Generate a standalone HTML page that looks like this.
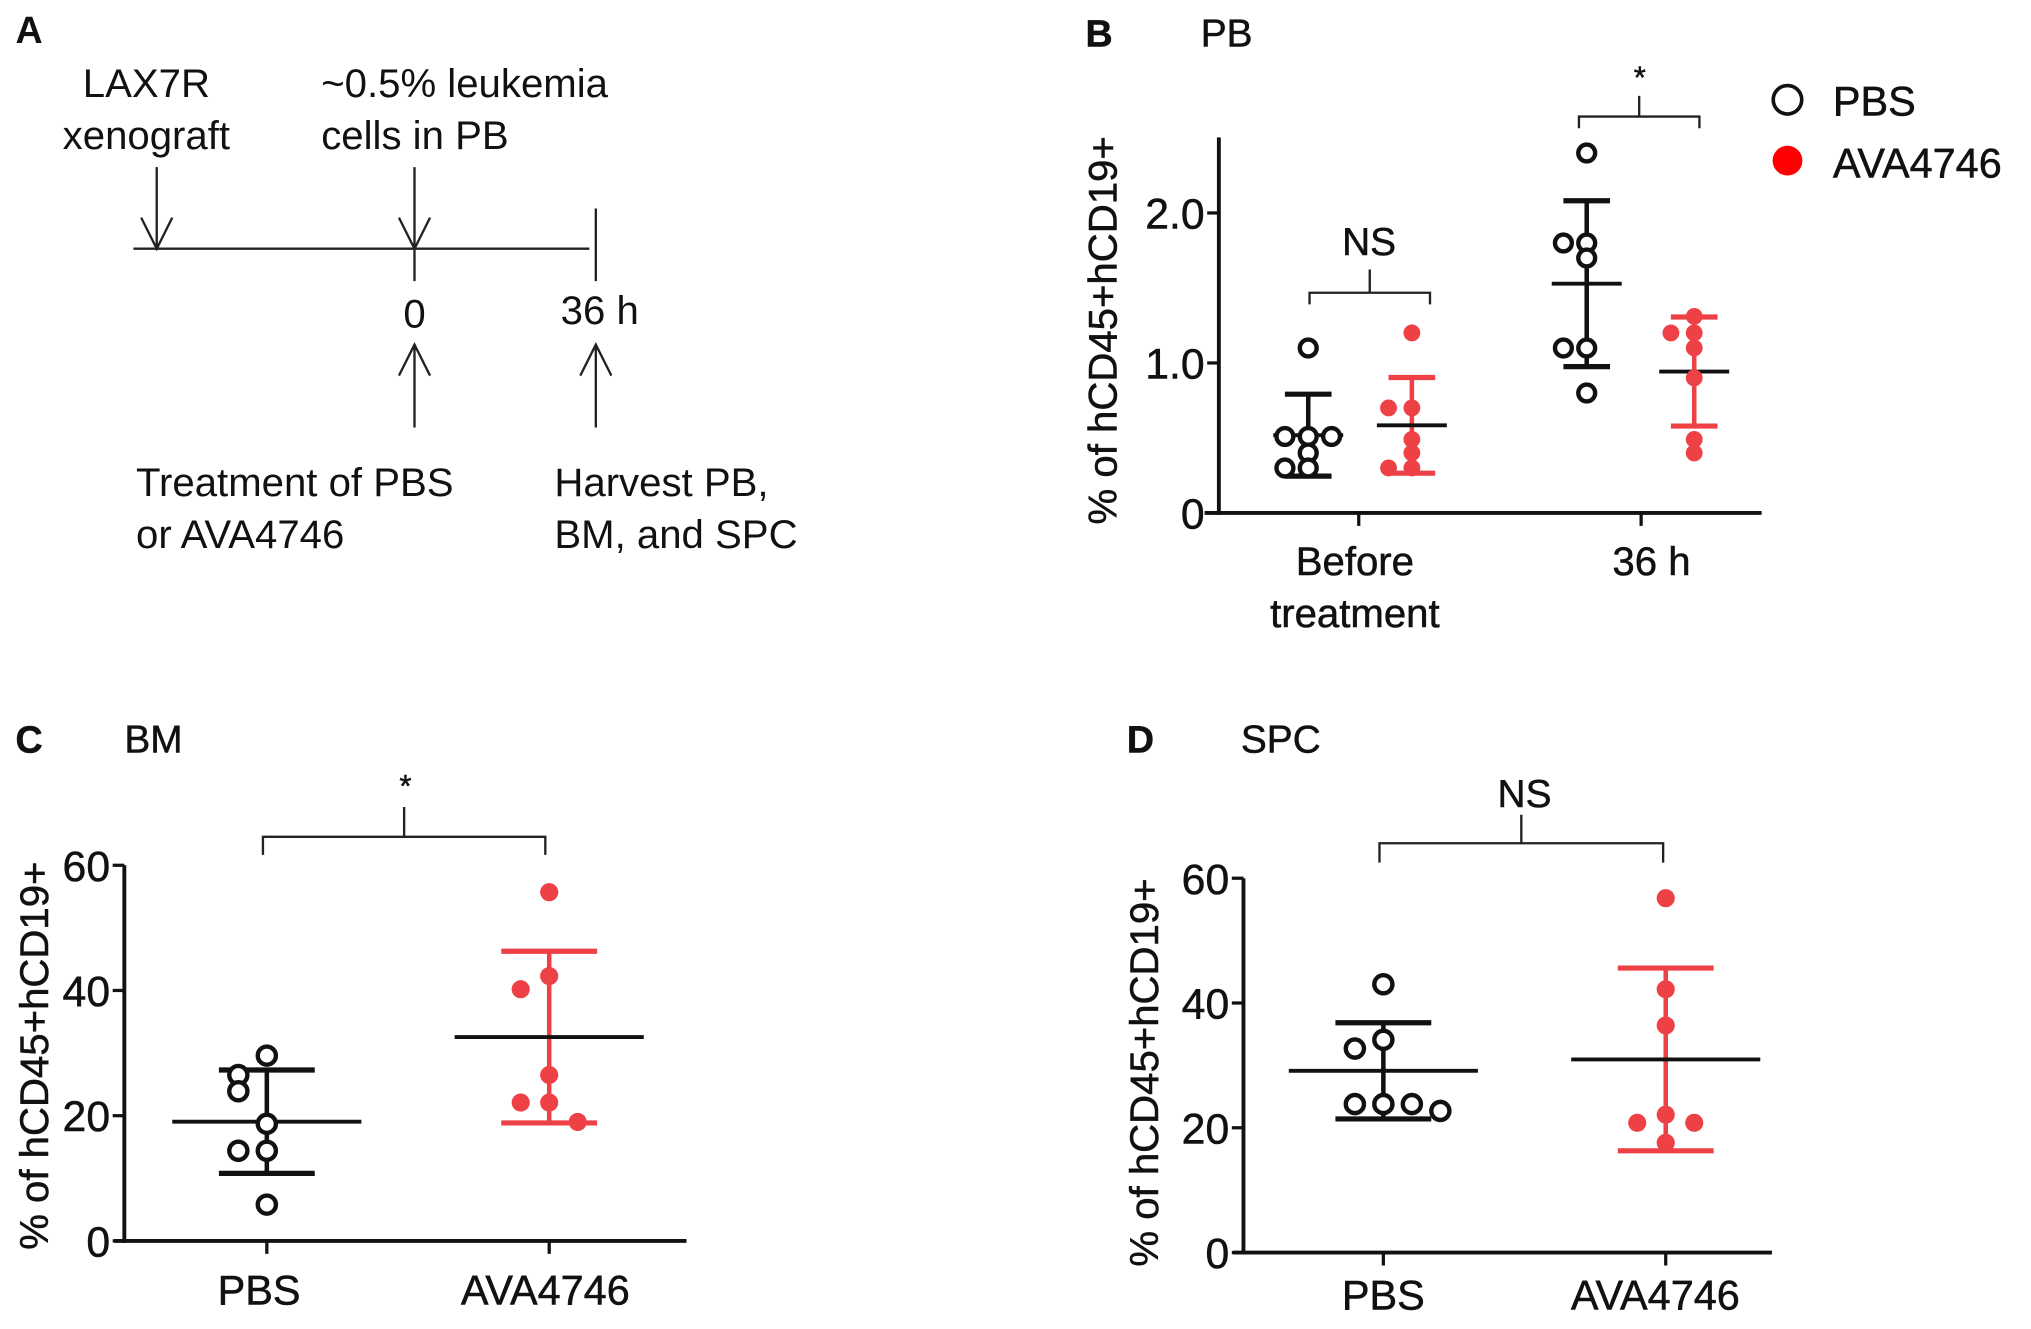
<!DOCTYPE html>
<html><head><meta charset="utf-8"><style>
html,body{margin:0;padding:0;background:#fff;}
svg{display:block;font-family:"Liberation Sans",Arial,sans-serif;}
</style></head><body>
<svg id="fig" width="2031" height="1329" viewBox="0 0 1568 1026" xmlns="http://www.w3.org/2000/svg">
<g id="panelA" stroke="#222" stroke-width="1.8" fill="none">
  <text x="12" y="33" font-size="29" font-weight="bold" fill="#111" stroke="none">A</text>
  <text x="113" y="75" font-size="31" fill="#111" stroke="none" text-anchor="middle">LAX7R</text>
  <text x="113" y="115" font-size="31" fill="#111" stroke="none" text-anchor="middle">xenograft</text>
  <text x="248" y="75" font-size="31" fill="#111" stroke="none">~0.5% leukemia</text>
  <text x="248" y="115" font-size="31" fill="#111" stroke="none">cells in PB</text>
  <line x1="103" y1="192" x2="455" y2="192"/>
  <path d="M121 129V192M109 168L121 192L133 168"/>
  <path d="M320 129V217M308 168L320 192L332 168"/>
  <line x1="460" y1="161" x2="460" y2="217"/>
  <text x="320" y="253" font-size="31" fill="#111" stroke="none" text-anchor="middle">0</text>
  <text x="463" y="250" font-size="31" fill="#111" stroke="none" text-anchor="middle">36 h</text>
  <path d="M320 330V266M308 290L320 266L332 290"/>
  <path d="M460 330V266M448 290L460 266L472 290"/>
  <text x="105" y="383" font-size="31" fill="#111" stroke="none">Treatment of PBS</text>
  <text x="105" y="423" font-size="31" fill="#111" stroke="none">or AVA4746</text>
  <text x="428" y="383" font-size="31" fill="#111" stroke="none">Harvest PB,</text>
  <text x="428" y="423" font-size="31" fill="#111" stroke="none">BM, and SPC</text>
</g>
</svg>
<script>
// Panel B (PB) data
const pbCategories = ["Before treatment", "36 h"];
const pbTicks = [0, 1.0, 2.0];
const pbTickLabels = ["0", "1.0", "2.0"];
const pbBeforePBS = [1.10, 0.51, 0.51, 0.51, 0.40, 0.30, 0.30];
const pbBeforeAVA = [1.20, 0.70, 0.70, 0.49, 0.40, 0.30, 0.30];
const pb36PBS = [2.40, 1.80, 1.80, 1.70, 1.10, 1.10, 0.80];
const pb36AVA = [1.31, 1.20, 1.20, 1.10, 0.90, 0.49, 0.40];
// Panel C (BM) data
const bmCategories = ["PBS", "AVA4746"];
const bmTicks = [0, 20, 40, 60];
const bmPBS = [29.6, 26.5, 23.9, 18.7, 14.4, 14.4, 5.8];
const bmAVA = [55.7, 42.3, 40.2, 26.5, 22.1, 22.1, 19.0];
// Panel D (SPC) data
const spcCategories = ["PBS", "AVA4746"];
const spcTicks = [0, 20, 40, 60];
const spcPBS = [43.0, 34.1, 32.7, 23.8, 23.8, 23.8, 22.7];
const spcAVA = [56.8, 42.2, 36.4, 22.1, 20.8, 20.8, 17.6];

const NS = "http://www.w3.org/2000/svg";
const svg = document.getElementById('fig');
const BLACK = "#111", RED = "#ee4146";
function mk(tag, attrs, parent) {
  const e = document.createElementNS(NS, tag);
  for (const k in attrs) e.setAttribute(k, attrs[k]);
  (parent || svg).appendChild(e);
  return e;
}
function txt(x, y, s, size, anchor, parent, extra) {
  const t = mk('text', Object.assign({x: x, y: y, 'font-size': size, 'text-anchor': anchor || 'start', fill: BLACK, stroke: BLACK, 'stroke-width': 0.4}, extra || {}), parent);
  t.textContent = s;
  return t;
}
function stats(a) {
  const m = a.reduce((s, v) => s + v, 0) / a.length;
  const sd = Math.sqrt(a.reduce((s, v) => s + (v - m) * (v - m), 0) / (a.length - 1));
  return [m, sd];
}
function axisY(y0, ymax, vmax) { return v => y0 - (v / vmax) * (y0 - ymax); }

function group(parent, name, vals, cx, yS, color, filled, opts) {
  const g = mk('g', {}, parent);
  
  
  const [m, sd] = stats(vals);
  const cap = opts.cap, mh = opts.meanHalf, r = opts.r, jit = opts.jit, tol = opts.tol;
  const eb = mk('line', {x1: cx, x2: cx, y1: yS(m + sd), y2: yS(Math.max(0, m - sd)), stroke: color, 'stroke-width': 3.5}, g);
  
  
  [m + sd, m - sd].forEach((v, i) => {
    const c = mk('line', {x1: cx - cap, x2: cx + cap, y1: yS(v), y2: yS(v), stroke: color, 'stroke-width': 4}, g);
    
    
  });
  const ml = mk('line', {x1: cx - mh, x2: cx + mh, y1: yS(m), y2: yS(m), stroke: BLACK, 'stroke-width': 3}, g);
  
  
  const placed = [];
  vals.forEach((v, i) => {
    const same = placed.filter(p => Math.abs(p - v) < tol).length;
    placed.push(v);
    const pattern = [0, -1, 1, 2, -2];
    const dx = pattern[same % pattern.length] * jit;
    const c = mk('circle', {cx: cx + dx, cy: yS(v), r: r, fill: filled ? color : '#fff', stroke: color, 'stroke-width': filled ? 0 : 3.4}, g);
    
    
  });
}

function bracket(parent, name, x1, x2, y, drop, stemTop, label, lx, ly, size) {
  const b = mk('path', {d: `M${x1} ${y + drop}V${y}H${x2}V${y + drop}M${(x1 + x2) / 2} ${y}V${stemTop}`, fill: 'none', stroke: '#222', 'stroke-width': 1.8}, parent);
  
  
  const t = txt(lx, ly, label, size, 'middle', parent);
  
  
}

function axes(parent, prefix, ax, y0, ytop, xStart, xEnd, yS, ticks, tickLabels, cats, catX, ylabX, ylabY) {
  const ya = mk('line', {x1: ax, x2: ax, y1: ytop, y2: y0 + 1.5, stroke: BLACK, 'stroke-width': 3}, parent);
  
  
  const xa = mk('line', {x1: xStart, x2: xEnd, y1: y0, y2: y0, stroke: BLACK, 'stroke-width': 3}, parent);
  
  
  ticks.forEach((v, i) => {
    const tk = mk('line', {x1: ax - 9, x2: ax, y1: yS(v), y2: yS(v), stroke: BLACK, 'stroke-width': 2.5}, parent);
    
    
    const t = txt(ax - 11, yS(v) + 12, tickLabels[i], 33, 'end', parent);
    
    
  });
  catX.forEach((x, i) => {
    const tk = mk('line', {x1: x, x2: x, y1: y0, y2: y0 + 10, stroke: BLACK, 'stroke-width': 2.5}, parent);
    
    
  });
  const yl = txt(0, 0, '% of hCD45+hCD19+', 31, 'middle', parent, {transform: `translate(${ylabX},${ylabY}) rotate(-90)`});
  
  
}

// ---------- Panel B ----------
(function () {
  const g = mk('g', {});
  
  
  const y0 = 396, ytop = 106, ax = 941;
  const yS = v => y0 - v * 115.8;
  const catX = [1049, 1267];
  let t = txt(838, 36, 'B', 29, 'start', g, {'font-weight': 'bold'});
   
  t = txt(927, 36, 'PB', 30, 'start', g);
   
  axes(g, 'pb', ax, y0, ytop, 930, 1360, yS, pbTicks, pbTickLabels, pbCategories, catX, 862, 255);
  t = txt(1046, 444, 'Before', 31, 'middle', g);
   
  t = txt(1046, 484, 'treatment', 31, 'middle', g);
   
  t = txt(1275, 444, pbCategories[1], 31, 'middle', g);
   
  const o = {cap: 18, meanHalf: 27, r: 6.5, jit: 18, tol: 0.06};
  group(g, 'pb-before-pbs', pbBeforePBS, catX[0] - 39, yS, BLACK, false, o);
  group(g, 'pb-before-ava4746', pbBeforeAVA, catX[0] + 41, yS, RED, true, o);
  group(g, 'pb-36h-pbs', pb36PBS, catX[1] - 42, yS, BLACK, false, o);
  group(g, 'pb-36h-ava4746', pb36AVA, catX[1] + 41, yS, RED, true, o);
  bracket(g, 'pb-before-ns-bracket', 1011, 1104, 226, 9, 208, 'NS', 1057, 197, 30);
  bracket(g, 'pb-36h-star-bracket', 1219, 1312, 90, 9, 74, '*', 1266, 68, 24);
  const lg = mk('g', {}, g);
  
  
  let c = mk('circle', {cx: 1380, cy: 77, r: 11, fill: '#fff', stroke: BLACK, 'stroke-width': 2.8}, lg);
   
  t = txt(1415, 89, 'PBS', 32, 'start', lg);
   
  c = mk('circle', {cx: 1380, cy: 124, r: 11.5, fill: '#ff0000'}, lg);
   
  t = txt(1415, 137, 'AVA4746', 32, 'start', lg);
   
})();

// ---------- Panel C ----------
(function () {
  const g = mk('g', {});
  
  
  const y0 = 958, ytop = 668, ax = 96;
  const yS = axisY(y0, ytop, 60);
  const catX = [206, 424];
  let t = txt(12, 581, 'C', 29, 'start', g, {'font-weight': 'bold'});
   
  t = txt(96, 581, 'BM', 30, 'start', g);
   
  axes(g, 'bm', ax, y0, ytop, 88, 530, yS, bmTicks, bmTicks.map(String), bmCategories, catX, 37, 815);
  t = txt(200, 1007, bmCategories[0], 32, 'middle', g);
   
  t = txt(421, 1007, bmCategories[1], 32, 'middle', g);
   
  const o = {cap: 37, meanHalf: 73, r: 7, jit: 22, tol: 4};
  group(g, 'bm-pbs', bmPBS, catX[0], yS, BLACK, false, o);
  group(g, 'bm-ava4746', bmAVA, catX[1], yS, RED, true, o);
  bracket(g, 'bm-star-bracket', 203, 421, 646, 14, 623, '*', 313, 615, 24);
})();

// ---------- Panel D ----------
(function () {
  const g = mk('g', {});
  
  
  const y0 = 967, ytop = 678, ax = 960;
  const yS = axisY(y0, ytop, 60);
  const catX = [1068, 1286];
  let t = txt(870, 581, 'D', 29, 'start', g, {'font-weight': 'bold'});
   
  t = txt(958, 581, 'SPC', 30, 'start', g);
   
  axes(g, 'spc', ax, y0, ytop, 952, 1368, yS, spcTicks, spcTicks.map(String), spcCategories, catX, 894, 828);
  t = txt(1068, 1011, spcCategories[0], 32, 'middle', g);
   
  t = txt(1278, 1011, spcCategories[1], 32, 'middle', g);
   
  const o = {cap: 37, meanHalf: 73, r: 7, jit: 22, tol: 3};
  group(g, 'spc-pbs', spcPBS, catX[0], yS, BLACK, false, o);
  group(g, 'spc-ava4746', spcAVA, catX[1], yS, RED, true, o);
  bracket(g, 'spc-ns-bracket', 1065, 1284, 651, 15, 629, 'NS', 1177, 623, 30);
})();
</script>
</body></html>
